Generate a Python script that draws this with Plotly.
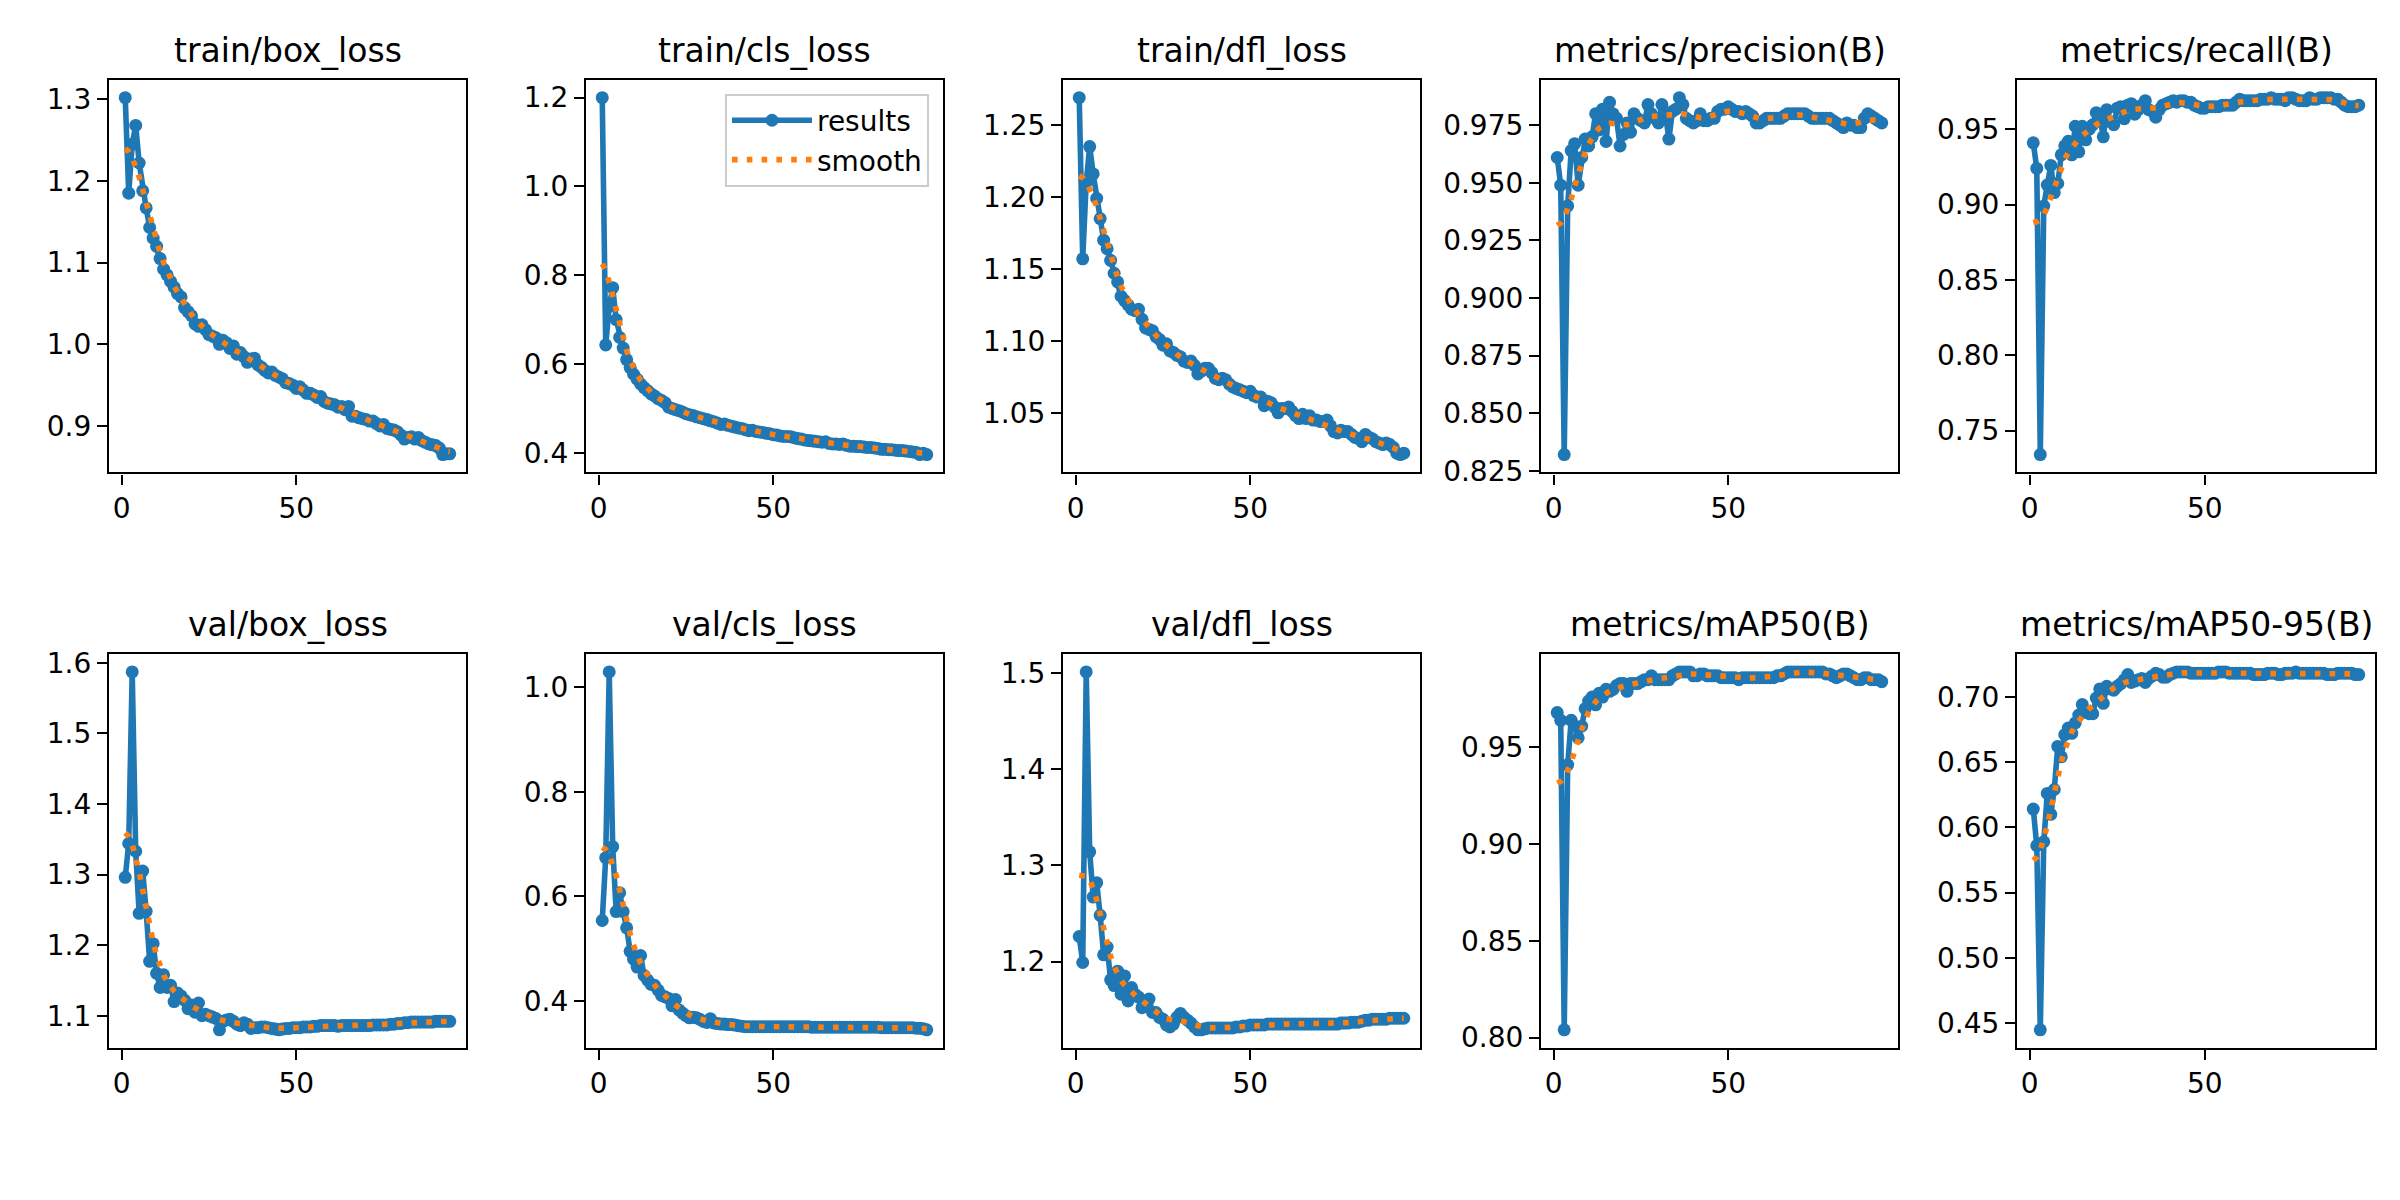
import numpy as np
import plotly.graph_objects as go
from plotly.subplots import make_subplots

epochs = list(range(1, 95))

titles = ["train/box_loss", "train/cls_loss", "train/dfl_loss", "metrics/precision(B)", "metrics/recall(B)",
          "val/box_loss", "val/cls_loss", "val/dfl_loss", "metrics/mAP50(B)", "metrics/mAP50-95(B)"]

train_box_loss = [1.302, 1.185, 1.245, 1.268, 1.222, 1.188, 1.167, 1.143, 1.130, 1.120,
                  1.105, 1.092, 1.085, 1.077, 1.070, 1.062, 1.058, 1.045, 1.040, 1.035,
                  1.025, 1.022, 1.024, 1.018, 1.012, 1.010, 1.008, 1.000, 1.005, 1.002,
                  0.995, 0.998, 0.988, 0.990, 0.985, 0.978, 0.982, 0.983, 0.975, 0.972,
                  0.968, 0.965, 0.966, 0.962, 0.960, 0.958, 0.953, 0.952, 0.950, 0.946,
                  0.948, 0.944, 0.940, 0.940, 0.938, 0.935, 0.936, 0.930, 0.928, 0.927,
                  0.926, 0.923, 0.924, 0.920, 0.924, 0.912, 0.912, 0.910, 0.909, 0.908,
                  0.906, 0.906, 0.903, 0.900, 0.902, 0.897, 0.896, 0.895, 0.893, 0.889,
                  0.884, 0.886, 0.887, 0.884, 0.886, 0.882, 0.880, 0.878, 0.877, 0.876,
                  0.873, 0.865, 0.866, 0.866]

train_cls_loss = [1.200, 0.643, 0.730, 0.772, 0.700, 0.660, 0.636, 0.610, 0.592, 0.577,
                  0.566, 0.555, 0.547, 0.540, 0.533, 0.528, 0.522, 0.518, 0.513, 0.503,
                  0.500, 0.497, 0.495, 0.492, 0.488, 0.486, 0.484, 0.481, 0.479, 0.477,
                  0.475, 0.472, 0.470, 0.467, 0.464, 0.465, 0.462, 0.460, 0.458, 0.456,
                  0.455, 0.452, 0.450, 0.451, 0.448, 0.447, 0.446, 0.444, 0.443, 0.441,
                  0.440, 0.438, 0.437, 0.437, 0.436, 0.434, 0.432, 0.431, 0.429, 0.428,
                  0.427, 0.426, 0.425, 0.424, 0.425, 0.421, 0.420, 0.420, 0.419, 0.420,
                  0.417, 0.415, 0.415, 0.414, 0.414, 0.413, 0.412, 0.412, 0.411, 0.410,
                  0.408, 0.408, 0.407, 0.407, 0.406, 0.405, 0.405, 0.404, 0.403, 0.402,
                  0.401, 0.396, 0.399, 0.396]

train_dfl_loss = [1.269, 1.157, 1.210, 1.235, 1.216, 1.199, 1.185, 1.170, 1.164, 1.156,
                  1.147, 1.141, 1.131, 1.128, 1.125, 1.122, 1.121, 1.122, 1.115, 1.109,
                  1.108, 1.107, 1.103, 1.101, 1.097, 1.098, 1.093, 1.092, 1.090, 1.089,
                  1.086, 1.085, 1.086, 1.083, 1.077, 1.079, 1.081, 1.081, 1.078, 1.074,
                  1.073, 1.074, 1.073, 1.070, 1.068, 1.067, 1.066, 1.065, 1.064, 1.065,
                  1.062, 1.061, 1.061, 1.055, 1.058, 1.057, 1.054, 1.050, 1.053, 1.053,
                  1.054, 1.051, 1.048, 1.046, 1.049, 1.046, 1.048, 1.045, 1.045, 1.044,
                  1.044, 1.045, 1.041, 1.037, 1.036, 1.038, 1.037, 1.037, 1.035, 1.033,
                  1.032, 1.030, 1.035, 1.033, 1.032, 1.030, 1.029, 1.028, 1.029, 1.028,
                  1.026, 1.022, 1.021, 1.022]

precision = [0.961, 0.949, 0.832, 0.940, 0.964, 0.967, 0.949, 0.961, 0.969, 0.966,
             0.970, 0.980, 0.973, 0.982, 0.968, 0.985, 0.980, 0.978, 0.966, 0.971,
             0.976, 0.972, 0.980, 0.978, 0.977, 0.976, 0.984, 0.980, 0.978, 0.976,
             0.984, 0.980, 0.969, 0.981, 0.982, 0.987, 0.984, 0.978, 0.977, 0.976,
             0.977, 0.980, 0.977, 0.977, 0.978, 0.978, 0.981, 0.982, 0.982, 0.983,
             0.982, 0.981, 0.981, 0.980, 0.981, 0.980, 0.979, 0.976, 0.976, 0.977,
             0.978, 0.978, 0.978, 0.978, 0.978, 0.979, 0.980, 0.980, 0.980, 0.980,
             0.980, 0.980, 0.979, 0.978, 0.978, 0.978, 0.978, 0.978, 0.978, 0.977,
             0.976, 0.975, 0.974, 0.976, 0.975, 0.975, 0.974, 0.974, 0.978, 0.980,
             0.979, 0.978, 0.977, 0.976]

recall = [0.941, 0.924, 0.734, 0.899, 0.913, 0.926, 0.908, 0.914, 0.933, 0.939,
          0.942, 0.933, 0.952, 0.935, 0.952, 0.943, 0.950, 0.953, 0.961, 0.959,
          0.945, 0.963, 0.955, 0.953, 0.964, 0.965, 0.957, 0.966, 0.967, 0.960,
          0.963, 0.966, 0.969, 0.963, 0.962, 0.958, 0.963, 0.966, 0.967, 0.968,
          0.969, 0.968, 0.969, 0.969, 0.968, 0.968, 0.966, 0.965, 0.964, 0.964,
          0.965, 0.965, 0.965, 0.965, 0.966, 0.966, 0.966, 0.966, 0.968, 0.970,
          0.969, 0.969, 0.969, 0.969, 0.969, 0.970, 0.970, 0.970, 0.971, 0.970,
          0.970, 0.970, 0.969, 0.971, 0.971, 0.970, 0.969, 0.969, 0.969, 0.971,
          0.970, 0.970, 0.971, 0.971, 0.971, 0.971, 0.970, 0.970, 0.968, 0.966,
          0.965, 0.965, 0.965, 0.966]

val_box_loss = [1.296, 1.344, 1.587, 1.333, 1.245, 1.305, 1.248, 1.177, 1.202, 1.160,
                1.140, 1.158, 1.140, 1.143, 1.120, 1.132, 1.128, 1.122, 1.110, 1.115,
                1.105, 1.118, 1.100, 1.102, 1.100, 1.098, 1.096, 1.080, 1.092, 1.094,
                1.095, 1.092, 1.088, 1.086, 1.090, 1.088, 1.082, 1.083, 1.083, 1.084,
                1.084, 1.083, 1.082, 1.081, 1.080, 1.081, 1.082, 1.082, 1.083, 1.083,
                1.083, 1.084, 1.084, 1.084, 1.085, 1.085, 1.086, 1.086, 1.086, 1.086,
                1.086, 1.085, 1.086, 1.086, 1.086, 1.086, 1.086, 1.086, 1.086, 1.086,
                1.086, 1.087, 1.087, 1.087, 1.087, 1.087, 1.088, 1.088, 1.089, 1.089,
                1.090, 1.090, 1.091, 1.091, 1.091, 1.091, 1.091, 1.091, 1.091, 1.092,
                1.092, 1.092, 1.092, 1.092]

val_cls_loss = [0.554, 0.674, 1.029, 0.695, 0.571, 0.607, 0.571, 0.540, 0.495, 0.480,
                0.465, 0.487, 0.449, 0.440, 0.432, 0.430, 0.421, 0.411, 0.408, 0.405,
                0.391, 0.403, 0.383, 0.377, 0.372, 0.368, 0.369, 0.368, 0.365, 0.361,
                0.359, 0.366, 0.358, 0.357, 0.356, 0.356, 0.355, 0.355, 0.354, 0.353,
                0.352, 0.351, 0.351, 0.351, 0.351, 0.351, 0.351, 0.351, 0.351, 0.351,
                0.351, 0.351, 0.351, 0.351, 0.351, 0.351, 0.351, 0.351, 0.351, 0.351,
                0.350, 0.350, 0.350, 0.350, 0.350, 0.350, 0.350, 0.350, 0.350, 0.350,
                0.350, 0.350, 0.350, 0.350, 0.350, 0.350, 0.350, 0.350, 0.350, 0.350,
                0.349, 0.349, 0.349, 0.349, 0.349, 0.349, 0.349, 0.349, 0.349, 0.349,
                0.348, 0.348, 0.347, 0.345]

val_dfl_loss = [1.226, 1.199, 1.501, 1.314, 1.267, 1.282, 1.248, 1.207, 1.215, 1.181,
                1.175, 1.190, 1.166, 1.185, 1.159, 1.173, 1.166, 1.163, 1.152, 1.159,
                1.161, 1.147, 1.147, 1.142, 1.140, 1.134, 1.132, 1.135, 1.142, 1.146,
                1.142, 1.139, 1.136, 1.132, 1.129, 1.129, 1.130, 1.131, 1.131, 1.131,
                1.131, 1.131, 1.131, 1.131, 1.131, 1.132, 1.132, 1.133, 1.133, 1.134,
                1.134, 1.134, 1.134, 1.134, 1.135, 1.135, 1.135, 1.135, 1.135, 1.135,
                1.135, 1.135, 1.135, 1.135, 1.135, 1.135, 1.135, 1.135, 1.135, 1.135,
                1.135, 1.135, 1.135, 1.135, 1.135, 1.136, 1.136, 1.136, 1.137, 1.137,
                1.137, 1.138, 1.139, 1.139, 1.140, 1.140, 1.140, 1.140, 1.140, 1.141,
                1.141, 1.141, 1.141, 1.141]

map50 = [0.968, 0.964, 0.804, 0.941, 0.964, 0.961, 0.955, 0.961, 0.970, 0.974,
         0.976, 0.972, 0.978, 0.976, 0.980, 0.979, 0.980, 0.982, 0.983, 0.983,
         0.979, 0.983, 0.983, 0.983, 0.984, 0.985, 0.985, 0.987, 0.985, 0.985,
         0.985, 0.985, 0.985, 0.987, 0.988, 0.989, 0.989, 0.989, 0.989, 0.987,
         0.987, 0.988, 0.988, 0.987, 0.987, 0.987, 0.987, 0.986, 0.986, 0.986,
         0.986, 0.986, 0.985, 0.986, 0.986, 0.986, 0.986, 0.986, 0.986, 0.986,
         0.986, 0.986, 0.986, 0.987, 0.987, 0.988, 0.989, 0.989, 0.989, 0.989,
         0.989, 0.989, 0.989, 0.989, 0.989, 0.989, 0.989, 0.988, 0.988, 0.987,
         0.986, 0.987, 0.988, 0.988, 0.987, 0.986, 0.985, 0.985, 0.986, 0.986,
         0.985, 0.985, 0.985, 0.984]

map50_95 = [0.614, 0.586, 0.445, 0.589, 0.626, 0.610, 0.629, 0.662, 0.654, 0.671,
            0.676, 0.672, 0.680, 0.686, 0.694, 0.688, 0.687, 0.687, 0.699, 0.706,
            0.695, 0.708, 0.706, 0.705, 0.708, 0.710, 0.713, 0.717, 0.711, 0.712,
            0.713, 0.714, 0.711, 0.714, 0.716, 0.718, 0.717, 0.715, 0.715, 0.717,
            0.718, 0.719, 0.719, 0.719, 0.719, 0.718, 0.718, 0.718, 0.718, 0.718,
            0.718, 0.718, 0.718, 0.719, 0.719, 0.719, 0.718, 0.718, 0.718, 0.718,
            0.718, 0.718, 0.718, 0.717, 0.717, 0.717, 0.717, 0.718, 0.718, 0.718,
            0.717, 0.717, 0.718, 0.718, 0.718, 0.719, 0.718, 0.718, 0.718, 0.718,
            0.718, 0.718, 0.718, 0.718, 0.717, 0.717, 0.717, 0.718, 0.718, 0.718,
            0.718, 0.718, 0.717, 0.717]

series = [train_box_loss, train_cls_loss, train_dfl_loss, precision, recall,
          val_box_loss, val_cls_loss, val_dfl_loss, map50, map50_95]

# y tick step and format per panel
ytick_step = [0.1, 0.2, 0.05, 0.025, 0.05, 0.1, 0.2, 0.1, 0.05, 0.05]
ytick_fmt = [".1f", ".1f", ".2f", ".3f", ".2f", ".1f", ".1f", ".1f", ".2f", ".2f"]


def gaussian_smooth(y, sigma=3.0, truncate=4.0):
    y = np.asarray(y, dtype=float)
    r = int(truncate * sigma + 0.5)
    k = np.arange(-r, r + 1)
    w = np.exp(-0.5 * (k / sigma) ** 2)
    w /= w.sum()
    yp = np.pad(y, r, mode="symmetric")
    return np.convolve(yp, w, mode="valid")


W, H = 2400, 1200
col_px = [(101, 458), (578, 935), (1055, 1412), (1533, 1890), (2009, 2367)]
row_px = [(66, 466), (651, 1052)]

BLUE = "#1f77b4"
ORANGE = "#ff7f0e"
FONT = "DejaVu Sans"
TICK_SIZE = 28
TITLE_SIZE = 33

fig = make_subplots(rows=2, cols=5)
annotations = []
x_arr = np.array(epochs, dtype=float)
xmin, xmax = x_arr.min(), x_arr.max()
xpad = 0.05 * (xmax - xmin)

for i, y in enumerate(series):
    r, c = divmod(i, 5)
    ys = gaussian_smooth(y)
    show = (i == 1)
    fig.add_trace(go.Scatter(x=epochs, y=y, mode="lines+markers", name="results",
                             line=dict(color=BLUE, width=5.6),
                             marker=dict(color=BLUE, size=13),
                             showlegend=show), row=r + 1, col=c + 1)
    fig.add_trace(go.Scatter(x=epochs, y=ys, mode="lines", name="smooth",
                             line=dict(color=ORANGE, width=5.6, dash="5.6px,9.2px"),
                             showlegend=show), row=r + 1, col=c + 1)
    allv = np.concatenate([np.asarray(y), ys])
    lo, hi = allv.min(), allv.max()
    pad = 0.05 * (hi - lo)
    ax_id = "" if i == 0 else str(i + 1)
    x0, x1 = col_px[c]
    y0, y1 = row_px[r]
    xd = [x0 / W, x1 / W]
    yd = [1 - y1 / H, 1 - y0 / H]
    fig.layout["xaxis" + ax_id].update(
        domain=xd, range=[xmin - xpad, xmax + xpad], tick0=0, dtick=50,
        showline=True, mirror=True, linecolor="black", linewidth=2.2,
        ticks="outside", ticklen=10, tickwidth=2.2, tickcolor="black",
        showgrid=False, zeroline=False,
        tickfont=dict(family=FONT, size=TICK_SIZE, color="black"))
    fig.layout["yaxis" + ax_id].update(
        domain=yd, range=[lo - pad, hi + pad], tick0=0, dtick=ytick_step[i],
        tickformat=ytick_fmt[i],
        showline=True, mirror=True, linecolor="black", linewidth=2.2,
        ticks="outside", ticklen=10, tickwidth=2.2, tickcolor="black",
        showgrid=False, zeroline=False,
        tickfont=dict(family=FONT, size=TICK_SIZE, color="black"))
    annotations.append(dict(text=titles[i], x=(xd[0] + xd[1]) / 2, y=yd[1],
                            xref="paper", yref="paper", xanchor="center", yanchor="bottom",
                            yshift=8, showarrow=False,
                            font=dict(family=FONT, size=TITLE_SIZE, color="black")))

fig.update_layout(
    width=W, height=H, margin=dict(l=0, r=0, t=0, b=0),
    paper_bgcolor="white", plot_bgcolor="white",
    annotations=annotations,
    font=dict(family=FONT, color="black"),
    legend=dict(x=921 / W, y=1 - 80 / H, xanchor="right", yanchor="top",
                bgcolor="rgba(255,255,255,0.8)", bordercolor="#cccccc", borderwidth=2,
                font=dict(family=FONT, size=TICK_SIZE, color="black"),
                itemwidth=80, tracegroupgap=0),
)

fig.write_html("out.html")
